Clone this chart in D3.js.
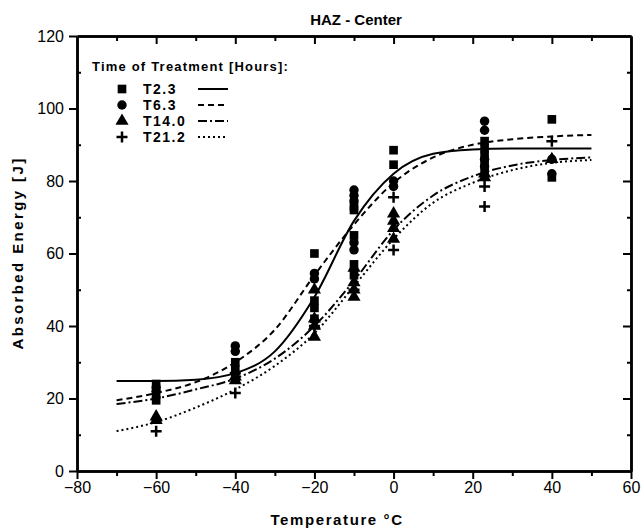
<!DOCTYPE html>
<html>
<head>
<meta charset="utf-8">
<script src="https://cdn.jsdelivr.net/npm/d3@7"></script>
<style>
  body { margin: 0; background: #fff; }
  text { font-family: "Liberation Sans", Arial, sans-serif; }
</style>
</head>
<body>
<script>
    //1. consts
    const w = 641;
    const h = 531;
    const plotLeft = 77, plotRight = 631, plotTop = 36, plotBottom = 471;

    //2. data
    const xTicks = [-80, -60, -40, -20, 0, 20, 40, 60];
    const yTicks = [0, 20, 40, 60, 80, 100, 120];

    // measured points [temperature, energy]
    const t23Points = [
        [-60, 24], [-60, 21], [-60, 19.5],
        [-40, 30], [-40, 28], [-40, 26],
        [-20, 60], [-20, 47], [-20, 45], [-20, 42],
        [-10, 73], [-10, 72], [-10, 65], [-10, 57], [-10, 54],
        [0, 88.5], [0, 84.5],
        [23, 91], [23, 89], [23, 87], [23, 85], [23, 83],
        [40, 97], [40, 81]
    ];
    const t63Points = [
        [-60, 23], [-60, 22],
        [-40, 34.5], [-40, 33], [-40, 27],
        [-20, 54.5], [-20, 53],
        [-10, 77.5], [-10, 76], [-10, 74.5], [-10, 63], [-10, 61],
        [0, 80], [0, 78.5],
        [23, 96.5], [23, 94], [23, 86], [23, 84],
        [40, 86], [40, 82]
    ];
    const t140Points = [
        [-60, 15], [-60, 14],
        [-40, 26], [-40, 25],
        [-20, 50], [-20, 42], [-20, 40], [-20, 37],
        [-10, 56], [-10, 52], [-10, 50], [-10, 48],
        [0, 71], [0, 69], [0, 67], [0, 64],
        [23, 82], [23, 81],
        [40, 86]
    ];
    const t212Points = [
        [-60, 11],
        [-40, 27], [-40, 21.5],
        [-20, 40], [-10, 50],
        [0, 75.5], [0, 61],
        [23, 78.5], [23, 73],
        [40, 91]
    ];

    // fitted curves, sampled every 10 degrees
    const fitTemps = [-70, -60, -50, -40, -30, -20, -10, 0, 10, 20, 30, 40, 50];
    const fitT23  = [24.8, 24.8, 25.2, 27, 33, 48, 69, 82, 87.5, 88.7, 89, 89, 89];
    const fitT63  = [19.5, 21.5, 24.5, 30, 39, 54, 68, 79.5, 86.5, 90, 91.5, 92.3, 92.7];
    const fitT140 = [18.5, 20, 22.5, 25.5, 31, 40, 52.5, 66.5, 76, 81.3, 84.3, 85.8, 86.5];
    const fitT212 = [11, 13.5, 17.5, 22.5, 29, 38, 51, 64, 74, 79.5, 83, 85, 85.8];

    const legendLabels = ["T2.3", "T6.3", "T14.0", "T21.2"];

    //3. scales
    const xScale = d3.scaleLinear().domain([-80, 60]).range([plotLeft, plotRight]);
    const yScale = d3.scaleLinear().domain([0, 120]).range([plotBottom, plotTop]);

    //4. svg
    const svg = d3.select("body").append("svg")
        .attr("width", w)
        .attr("height", h);

    //5. axes
    const styleAxis = (g, labels) => {
        g.select(".domain").attr("stroke-width", 2.5);
        g.selectAll(".tick line").attr("stroke-width", 2);
        if (labels) {
            g.selectAll(".tick text").attr("font-size", 16).attr("fill", "#000");
        } else {
            g.selectAll(".tick text").remove();
        }
    };

    svg.append("g")
        .attr("transform", "translate(0," + plotBottom + ")")
        .call(d3.axisBottom(xScale).tickValues(d3.range(-70, 60, 20)).tickSize(5).tickSizeOuter(0))
        .call(g => styleAxis(g, false));
    svg.append("g")
        .attr("transform", "translate(0," + plotBottom + ")")
        .call(d3.axisBottom(xScale).tickValues(xTicks).tickSize(8).tickSizeOuter(0).tickPadding(3))
        .call(g => styleAxis(g, true));

    svg.append("g")
        .attr("transform", "translate(" + plotLeft + ",0)")
        .call(d3.axisLeft(yScale).tickValues(d3.range(10, 120, 20)).tickSize(-4).tickSizeOuter(0))
        .call(g => styleAxis(g, false));
    svg.append("g")
        .attr("transform", "translate(" + plotLeft + ",0)")
        .call(d3.axisLeft(yScale).tickValues(yTicks).tickSize(8).tickSizeOuter(0).tickPadding(5))
        .call(g => styleAxis(g, true));

    // top and right frame with inward ticks
    svg.append("g")
        .attr("transform", "translate(0," + plotTop + ")")
        .call(d3.axisTop(xScale).tickValues(xTicks.slice(1, -1)).tickSize(-8).tickSizeOuter(0))
        .call(g => styleAxis(g, false));
    svg.append("g")
        .attr("transform", "translate(0," + plotTop + ")")
        .call(d3.axisTop(xScale).tickValues(d3.range(-70, 60, 20)).tickSize(-5).tickSizeOuter(0))
        .call(g => styleAxis(g, false));
    svg.append("g")
        .attr("transform", "translate(" + plotRight + ",0)")
        .call(d3.axisRight(yScale).tickValues(yTicks.slice(1, -1)).tickSize(-8).tickSizeOuter(0))
        .call(g => styleAxis(g, false));
    svg.append("g")
        .attr("transform", "translate(" + plotRight + ",0)")
        .call(d3.axisRight(yScale).tickValues(d3.range(10, 120, 20)).tickSize(-4).tickSizeOuter(0))
        .call(g => styleAxis(g, false));

    //6. fitted curves
    const dashes = [null, "6,4", "9,3,2,3", "2,3"];
    const fits = [fitT23, fitT63, fitT140, fitT212];
    const line = d3.line()
        .x(d => xScale(d[0]))
        .y(d => yScale(d[1]))
        .curve(d3.curveMonotoneX);

    fits.forEach((vals, i) => {
        svg.append("path")
            .datum(fitTemps.map((t, j) => [t, vals[j]]))
            .attr("d", line)
            .attr("fill", "none")
            .attr("stroke", "#000")
            .attr("stroke-width", 2)
            .attr("stroke-dasharray", dashes[i]);
    });

    //7. markers
    const symbols = [
        d3.symbol().type(d3.symbolSquare).size(75),
        d3.symbol().type(d3.symbolCircle).size(70),
        d3.symbol().type(d3.symbolTriangle).size(75)
    ];
    const plusPath = "M-5.5,0H5.5M0,-5.5V5.5";

    [t23Points, t63Points, t140Points].forEach((pts, i) => {
        svg.append("g").selectAll("path")
            .data(pts)
            .enter()
            .append("path")
            .attr("transform", d => "translate(" + xScale(d[0]) + "," + yScale(d[1]) + ")")
            .attr("d", symbols[i]())
            .attr("fill", "#000");
    });

    svg.append("g").selectAll("path")
        .data(t212Points)
        .enter()
        .append("path")
        .attr("transform", d => "translate(" + xScale(d[0]) + "," + yScale(d[1]) + ")")
        .attr("d", plusPath)
        .attr("stroke", "#000")
        .attr("stroke-width", 2.5);

    //8. legend
    svg.append("text")
        .attr("x", 92).attr("y", 71)
        .attr("font-size", 13).attr("font-weight", "bold")
        .attr("letter-spacing", 1.2)
        .text("Time of Treatment [Hours]:");

    legendLabels.forEach((lab, i) => {
        const y = 89 + i * 16;
        if (i < 3) {
            svg.append("path")
                .attr("transform", "translate(122," + y + ")")
                .attr("d", symbols[i]())
                .attr("fill", "#000");
        } else {
            svg.append("path")
                .attr("transform", "translate(122," + y + ")")
                .attr("d", plusPath)
                .attr("stroke", "#000")
                .attr("stroke-width", 2.5);
        }
        svg.append("text")
            .attr("x", 143).attr("y", y + 5)
            .attr("font-size", 14).attr("font-weight", "bold")
            .attr("letter-spacing", 1.5)
            .text(lab);
        svg.append("line")
            .attr("x1", 198).attr("x2", 228)
            .attr("y1", y).attr("y2", y)
            .attr("stroke", "#000")
            .attr("stroke-width", 2)
            .attr("stroke-dasharray", dashes[i]);
    });

    //9. titles
    svg.append("text")
        .attr("x", 356).attr("y", 25)
        .attr("text-anchor", "middle")
        .attr("font-size", 15).attr("font-weight", "bold")
        .text("HAZ - Center");

    svg.append("text")
        .attr("x", 337).attr("y", 525)
        .attr("text-anchor", "middle")
        .attr("font-size", 15).attr("font-weight", "bold")
        .attr("letter-spacing", 1.6)
        .text("Temperature °C");

    svg.append("text")
        .attr("transform", "translate(23," + 253 + ") rotate(-90)")
        .attr("text-anchor", "middle")
        .attr("font-size", 15).attr("font-weight", "bold")
        .attr("letter-spacing", 2.4)
        .text("Absorbed Energy [J]");
</script>
</body>
</html>
